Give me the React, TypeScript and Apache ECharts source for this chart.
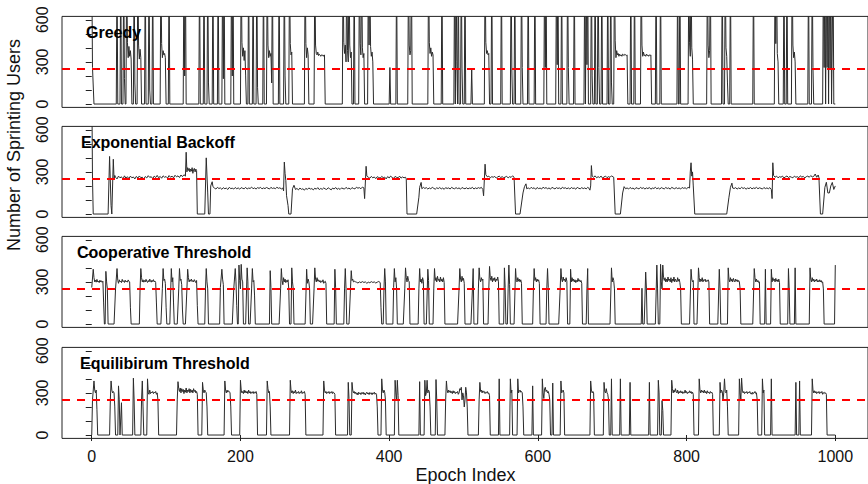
import React, { useEffect, useRef } from "react";
import * as echarts from "echarts";

const panelTitles = ["Greedy", "Exponential Backoff", "Cooperative Threshold", "Equilibirum Threshold"];
const threshold = 250;
const xTicks = [0, 200, 400, 600, 800, 1000];
const yTicks = [0, 100, 200, 300, 400, 500, 600];
const yLabels = [0, 300, 600];

// [epoch, users, epoch, users, ...]
const greedy = [
  0,1000, 1,260, 3,0, 33,0, 34,1000, 35,0, 38,0, 39,1000, 40,0, 42,0, 43,1000, 44,180, 45,0,
  46,0, 47,1000, 48,440, 49,330, 50,410, 51,340, 52,380, 53,320, 54,0,
  56,0, 57,1000, 58,150, 59,0,
  61,0, 62,1000, 63,420, 64,320, 65,390, 66,330, 67,0,
  71,0, 72,1000, 73,0, 76,0, 77,1000, 78,100, 79,0, 81,0, 82,1000, 83,0,
  92,0, 93,1000, 94,430, 95,330, 96,380, 97,350, 98,360, 99,330, 100,0,
  103,0, 104,1000, 105,0,
  123,0, 124,1000, 125,200, 126,1000, 127,0,
  144,0, 145,1000, 146,0, 150,0, 151,1000, 152,0, 155,0, 156,1000, 157,150, 158,0,
  162,0, 163,1000, 164,0, 169,0, 170,1000, 171,0, 175,0, 176,1000, 177,180, 178,1000, 179,0,
  187,0, 188,1000, 189,200, 190,1000, 191,0,
  200,0, 201,1000, 202,440, 203,340, 204,400, 205,310, 206,380, 207,200, 208,0,
  210,0, 211,1000, 212,0, 216,0, 217,1000, 218,0, 221,0, 222,1000, 223,120, 224,0,
  230,0, 231,1000, 232,0,
  235,0, 236,1000, 237,420, 238,330, 239,380, 240,340, 241,360, 242,150, 243,1000, 244,0,
  251,0, 252,1000, 253,0, 258,0, 259,1000, 260,200, 261,0,
  265,0, 266,1000, 267,430, 268,350, 269,370, 270,0,
  286,0, 287,1000, 288,430, 289,330, 290,400, 291,350, 292,0,
  299,0, 300,1000, 301,420, 302,360, 303,350, 304,370, 305,345, 306,355, 307,350, 308,340, 309,350, 310,345, 311,350, 312,340, 313,350, 314,0,
  337,0, 338,1000, 339,440, 340,360, 341,420, 342,300, 343,1000, 344,380, 345,300, 346,1000, 347,420, 348,330, 349,370, 350,0,
  352,0, 353,1000, 354,0,
  359,0, 360,1000, 361,430, 362,350, 363,1000, 364,400, 365,330, 366,360, 367,0,
  371,0, 372,1000, 373,420, 374,1000, 375,410, 376,340, 377,370, 378,300, 379,0,
  400,0, 401,260, 402,0, 409,0, 410,1000, 411,0,
  425,0, 426,1000, 427,420, 428,350, 429,380, 430,1000, 431,0,
  452,0, 453,1000, 454,440, 455,360, 456,400, 457,340, 458,370, 459,350, 460,0,
  470,0, 471,1000, 472,0,
  487,0, 488,1000, 489,0, 490,1000, 491,300, 492,0, 493,1000, 494,0, 496,0, 497,1000, 498,250, 499,0, 501,0, 502,1000, 503,0,
  510,0, 511,250, 512,0,
  528,0, 529,1000, 530,440, 531,360, 532,380, 533,350, 534,360, 535,0,
  537,0, 538,1000, 539,0, 550,0, 551,1000, 552,0,
  563,0, 564,1000, 565,250, 566,0, 568,0, 569,1000, 570,0,
  577,0, 578,1000, 579,260, 580,0, 586,0, 587,1000, 588,0, 595,0, 596,1000, 597,0,
  608,0, 609,1000, 610,260, 611,1000, 612,0,
  624,0, 625,1000, 626,280, 627,1000, 628,0, 631,0, 632,1000, 633,0,
  639,0, 640,1000, 641,260, 642,0, 648,0, 649,1000, 650,0,
  662,0, 663,1000, 664,0, 665,1000, 666,280, 667,1000, 668,0, 671,0, 672,1000, 673,200, 674,0, 676,0, 677,1000, 678,0,
  680,0, 681,1000, 682,260, 683,0, 685,0, 686,1000, 687,0,
  693,0, 694,1000, 695,0, 697,0, 698,1000, 699,150, 700,0,
  702,0, 703,1000, 704,450, 705,330, 706,380, 707,350, 708,360, 709,340, 710,355, 711,345, 712,350, 713,340, 714,355, 715,350, 716,345, 717,355, 718,350, 719,345, 720,350, 721,0,
  724,0, 725,1000, 726,0, 729,0, 730,1000, 731,0,
  738,0, 739,1000, 740,420, 741,340, 742,370, 743,345, 744,350, 745,340, 746,355, 747,345, 748,350, 749,340, 750,350, 751,345, 752,350, 753,0,
  758,0, 759,1000, 760,0, 764,0, 765,1000, 766,0,
  787,0, 788,1000, 789,0, 790,0, 791,1000, 792,0,
  802,0, 803,1000, 804,440, 805,340, 806,1000, 807,400, 808,320, 809,0,
  827,0, 828,1000, 829,420, 830,330, 831,380, 832,1000, 833,0,
  847,0, 848,1000, 849,0, 851,0, 852,1000, 853,400, 854,340, 855,150, 856,0, 858,0, 859,1000, 860,0,
  889,0, 890,1000, 891,0,
  918,0, 919,1000, 920,430, 921,1000, 922,360, 923,300, 924,0,
  930,0, 931,1000, 932,0, 934,0, 935,1000, 936,0,
  941,0, 942,1000, 943,420, 944,330, 945,370, 946,300, 947,0,
  963,0, 964,1000, 965,0, 968,0, 969,1000, 970,260, 971,0,
  983,0, 984,1000, 985,260, 986,1000, 987,0, 988,1000, 989,260, 990,1000, 991,0, 992,1000, 993,250, 994,1000, 995,0, 997,1000, 998,0, 1000,0,
];

const backoff = [
  0,1000, 1,255, 2,0, 22,0, 24,410, 26,60, 27,0, 29,390, 30,250, 31,275,
  32,262, 34,250, 36,270, 38,258, 40,265, 42,248, 44,272, 46,255, 48,266, 50,252, 52,270, 54,258, 56,264, 58,250,
  60,268, 62,256, 64,271, 66,259, 68,262, 70,249, 72,267, 74,257, 76,273, 78,261, 80,266, 82,252, 84,270, 86,260,
  88,275, 90,258, 92,268, 94,255, 96,272, 98,262, 100,267, 102,256, 104,274, 106,262, 108,270, 110,258, 112,276,
  114,265, 116,272, 118,260, 120,278, 122,266, 124,280, 126,270,
  127,440, 128,300, 129,330, 130,310, 131,325, 132,300, 133,320, 134,305, 135,330, 136,290, 137,318, 138,325, 139,300, 140,320, 141,310, 142,0,
  152,0, 154,400, 156,150, 157,0, 159,0, 160,200, 162,230, 163,195,
  165,185, 167,178, 169,190, 171,182, 173,186, 175,176, 177,188, 179,180, 181,185, 183,175, 185,190, 187,181, 189,184,
  191,178, 193,189, 195,180, 197,186, 199,177, 201,188, 203,183, 205,180, 207,190, 209,178, 211,185, 213,182, 215,192,
  217,180, 219,186, 221,178, 223,188, 225,183, 227,190, 229,179, 231,186, 233,181, 235,189, 237,184, 239,178, 241,190,
  243,182, 245,186, 247,180, 249,191, 251,183, 253,187, 255,179, 257,185, 258,165,
  259,370, 260,290, 261,240, 262,130, 264,60, 265,0, 268,0, 270,180, 272,205, 274,175,
  276,182, 278,172, 280,185, 282,176, 284,180, 286,170, 288,183, 290,175, 292,186, 294,178, 296,181, 298,172, 300,184,
  302,177, 304,188, 306,174, 308,182, 310,176, 312,186, 314,179, 316,175, 318,187, 320,180, 322,172, 324,185, 326,178,
  328,189, 330,176, 332,183, 334,175, 336,186, 338,181, 340,178, 342,190, 344,180, 346,185, 348,176, 350,188, 352,182,
  354,179, 356,191, 358,184, 360,188, 362,180, 364,192, 366,186, 367,110,
  369,340, 370,270, 372,262, 374,255, 376,268, 378,258, 380,264, 382,252, 384,266, 386,260, 388,256, 390,268, 392,259,
  394,263, 396,250, 398,267, 400,257, 402,270, 404,260, 406,254, 408,268, 410,261, 412,258, 414,270, 416,256, 418,264,
  420,258, 422,262, 423,250,
  424,0, 437,0, 440,120, 441,190, 443,225, 444,180, 446,190,
  448,182, 450,188, 452,178, 454,186, 456,180, 458,190, 460,183, 462,177, 464,187, 466,181, 468,189, 470,179, 472,185,
  474,176, 476,188, 478,182, 480,186, 482,178, 484,190, 486,183, 488,180, 490,188, 492,181, 494,186, 496,177, 498,189,
  500,183, 502,180, 504,187, 506,179, 508,185, 510,182, 512,190, 514,178, 516,186, 518,181, 520,188, 522,183, 524,190, 526,175,
  527,130, 529,355, 530,280, 532,265, 534,270, 536,258, 538,266, 540,262, 542,268, 544,256, 546,264, 548,270, 550,260,
  552,266, 554,258, 556,263, 558,269, 560,257, 562,266, 564,261, 566,272, 568,262,
  570,0, 576,0, 580,150, 582,195, 584,215, 585,180,
  587,186, 589,179, 591,190, 593,182, 595,187, 597,176, 599,189, 601,181, 603,185, 605,178, 607,191, 609,183, 611,188,
  613,180, 615,186, 617,177, 619,190, 621,184, 623,179, 625,188, 627,182, 629,186, 631,178, 633,191, 635,183, 637,187,
  639,180, 641,186, 643,178, 645,189, 647,182, 649,185, 651,177, 653,190, 655,183, 657,180, 659,188, 661,181, 663,186,
  665,179, 667,190, 669,182, 670,170,
  671,200, 672,345, 673,270, 675,262, 677,272, 679,258, 681,266, 683,260, 685,270, 687,256, 689,264, 691,270, 693,259,
  695,266, 697,261, 699,272, 701,265, 702,262,
  704,0, 711,0, 714,150, 716,195, 718,180,
  720,186, 722,178, 724,189, 726,181, 728,185, 730,176, 732,188, 734,183, 736,179, 738,190, 740,182, 742,187, 744,178,
  746,186, 748,181, 750,189, 752,177, 754,185, 756,182, 758,190, 760,180, 762,186, 764,178, 766,188, 768,183, 770,179,
  772,189, 774,182, 776,186, 778,177, 780,190, 782,184, 784,180, 786,188, 788,181, 790,186, 792,178, 794,189, 796,183,
  798,187, 800,180, 802,190, 804,185,
  805,300, 806,365, 807,270, 808,300, 809,200, 811,0, 854,0, 857,120, 859,190, 861,220, 862,185,
  864,182, 866,188, 868,178, 870,186, 872,180, 874,190, 876,182, 878,187, 880,177, 882,185, 884,181, 886,189, 888,179,
  890,186, 892,182, 894,190, 896,180, 898,187, 900,183, 902,178, 904,189, 906,181, 908,186, 910,180, 912,188, 914,175,
  915,110, 916,365, 917,275, 919,262, 921,270, 923,258, 925,266, 927,262, 929,270, 931,257, 933,265, 935,271, 937,260,
  939,267, 941,262, 943,258, 945,270, 947,262, 949,266, 951,259, 953,272, 955,263, 957,268, 959,257, 961,266, 963,270,
  965,262, 967,274, 969,264, 971,268, 973,285, 975,262, 977,278, 978,260,
  980,0, 983,0, 986,190, 988,226, 990,150, 992,150, 994,200, 996,225, 998,175, 1000,200,
];

const cooperative = [
  0,260, 2,390, 3,330, 4,300, 5,312, 6,298, 7,318, 8,300, 9,306, 10,295, 11,312, 12,300, 13,308, 14,297, 15,305, 16,150, 17,0,
  18,0, 19,375, 20,300, 21,250, 22,0, 30,0, 32,250, 34,395, 35,310, 36,290, 37,315, 38,300, 39,306, 40,295, 41,318, 42,302,
  43,308, 44,296, 45,312, 46,300, 47,306, 48,298, 49,314, 50,303, 51,300, 52,120, 53,0, 64,0, 65,250, 66,395, 67,330, 68,300,
  69,315, 70,298, 71,310, 72,300, 73,318, 74,304, 75,296, 76,310, 77,300, 78,320, 79,305, 80,298, 81,312, 82,302, 83,316,
  84,300, 85,306, 86,295, 87,150, 88,0, 93,0, 95,255, 96,395, 97,310, 98,320, 99,290, 100,120, 101,0, 105,0, 107,395,
  108,300, 109,330, 110,150, 111,0, 115,0, 117,250, 118,395, 119,310, 120,320, 121,280, 122,100, 123,0, 126,0, 128,250,
  129,390, 130,330, 131,300, 132,315, 133,305, 134,320, 135,302, 136,310, 137,300, 138,316, 139,305, 140,295, 141,310,
  142,130, 143,0, 152,0, 153,250, 154,395, 155,300, 156,250, 157,0, 172,0, 173,260, 175,390, 176,320, 177,280, 178,0,
  189,0, 191,250, 193,395, 194,300, 195,130, 196,0, 197,0, 198,420, 199,310, 200,250, 201,425, 202,320, 203,300, 204,0,
  207,0, 209,400, 210,300, 211,0, 213,0, 215,250, 216,395, 217,300, 218,310, 219,200, 220,0, 239,0, 240,380, 241,260, 242,0,
  252,0, 254,250, 255,395, 256,310, 257,280, 258,330, 259,300, 260,320, 261,295, 262,310, 263,300, 264,315, 265,250, 266,0,
  268,0, 269,400, 270,300, 271,250, 272,0, 287,0, 289,390, 290,290, 291,320, 292,300, 293,250, 294,0, 297,0, 299,250,
  300,400, 301,320, 302,300, 303,330, 304,305, 305,315, 306,300, 307,310, 308,295, 309,305, 310,300, 311,315, 312,290,
  313,300, 314,305, 315,290, 316,0,
  326,0, 327,390, 328,260, 329,0, 339,0, 340,250, 341,395, 342,250, 343,0, 346,0, 348,250, 349,380, 350,310, 351,320,
  352,300, 353,305, 355,300, 356,298, 358,292, 360,300, 362,295, 364,302, 366,296, 368,300, 370,290, 372,298, 374,294,
  376,302, 378,296, 380,300, 382,292, 384,298, 386,303, 388,295, 389,120, 390,0,
  392,0, 393,250, 394,395, 395,300, 396,0, 405,0, 406,260, 407,395, 408,300, 409,330, 410,250, 411,0,
  419,0, 421,250, 422,400, 423,330, 424,300, 425,340, 426,310, 427,300, 428,0,
  439,0, 440,250, 441,395, 442,300, 443,320, 444,290, 445,330, 446,305, 447,0, 450,0, 452,390, 453,310, 454,0,
  459,0, 460,250, 461,395, 462,310, 463,330, 464,300, 465,340, 466,310, 467,320, 468,300, 469,335, 470,305, 471,320,
  472,300, 473,330, 474,295, 475,0, 492,0, 494,250, 495,395, 496,320, 497,300, 498,340, 499,310, 500,325, 501,290, 502,0,
  510,0, 512,250, 513,395, 514,0, 519,0, 520,250, 521,400, 522,320, 523,300, 524,330, 525,310, 526,320, 527,0,
  533,0, 534,250, 535,410, 536,330, 537,310, 538,340, 539,300, 540,325, 541,310, 542,330, 543,300, 544,320, 545,310,
  546,335, 547,300, 548,0, 554,0, 555,400, 556,260, 557,0, 559,0, 560,250, 561,420, 562,280, 563,0,
  568,0, 570,395, 571,310, 572,300, 573,330, 574,305, 575,320, 576,300, 577,315, 578,290, 579,0,
  593,0, 594,250, 595,395, 596,310, 597,330, 598,300, 599,320, 600,305, 601,315, 602,290, 603,0,
  611,0, 612,250, 613,395, 614,260, 615,0, 628,0, 630,250, 631,395, 632,320, 633,300, 634,335, 635,310, 636,320, 637,300,
  638,330, 639,305, 640,0, 643,0, 644,390, 645,300, 646,330, 647,305, 648,320, 649,300, 650,315, 651,295, 652,310, 653,300,
  654,325, 655,305, 656,315, 657,300, 658,310, 659,290, 660,0, 665,0, 666,250, 667,395, 668,0,
  697,0, 699,400, 700,300, 701,330, 702,310, 703,250, 704,0, 739,0, 740,255, 741,0, 743,0, 745,370, 746,250, 747,0,
  758,0, 760,420, 761,250, 762,0, 764,0, 765,425, 766,300, 767,250, 768,420, 769,330, 770,310, 771,330, 772,300, 773,320,
  774,300, 775,335, 776,310, 777,320, 778,300, 779,330, 780,295, 781,320, 782,305, 783,335, 784,300, 785,320, 786,310,
  787,300, 788,330, 789,305, 790,320, 791,295, 792,250, 793,0, 804,0, 806,390, 807,320, 808,300, 809,310, 810,0,
  814,0, 816,400, 817,330, 818,300, 819,320, 820,305, 821,330, 822,300, 823,315, 824,310, 825,320, 826,300, 827,310,
  828,305, 829,315, 830,300, 831,0, 842,0, 844,390, 845,250, 846,0, 855,0, 856,400, 857,320, 858,300, 859,330, 860,305,
  861,320, 862,300, 863,325, 864,310, 865,300, 866,320, 867,305, 868,315, 869,300, 870,310, 871,300, 872,250, 873,0,
  889,0, 891,395, 892,330, 893,300, 894,320, 895,300, 896,310, 897,295, 898,300, 899,0, 905,0, 906,390, 907,0,
  913,0, 914,390, 915,300, 916,330, 917,310, 918,320, 919,300, 920,325, 921,305, 922,315, 923,300, 924,320, 925,295, 926,0,
  936,0, 937,395, 938,250, 939,0, 945,0, 946,400, 947,0, 965,0, 966,400, 967,320, 968,300, 969,330, 970,305, 971,320,
  972,300, 973,315, 974,305, 975,320, 976,300, 977,310, 978,300, 979,315, 980,300, 981,310, 982,295, 983,300, 984,250,
  985,0, 999,0, 1000,420,
];

const equilibrium = [
  0,0, 1,250, 3,385, 4,320, 5,300, 6,320, 7,180, 8,0, 24,0, 25,250, 26,385, 27,320, 28,300, 29,310, 30,300, 31,200, 32,0,
  35,0, 36,350, 37,250, 38,0, 40,230, 41,0, 55,0, 56,405, 57,250, 58,0, 66,0, 67,250, 68,385, 69,200, 70,0,
  74,0, 75,400, 76,300, 77,290, 78,320, 79,295, 80,305, 81,300, 82,310, 83,295, 84,305, 85,300, 86,310, 87,290, 88,300,
  89,250, 90,0, 114,0, 115,250, 116,380, 117,330, 118,310, 119,335, 120,300, 121,330, 122,310, 123,325, 124,295, 125,320,
  126,305, 127,335, 128,300, 129,320, 130,310, 131,330, 132,300, 133,325, 134,305, 135,320, 136,300, 137,330, 138,310,
  139,320, 140,300, 141,310, 142,290, 143,0, 148,0, 149,375, 150,320, 151,300, 152,320, 153,310, 154,300, 155,200, 156,0,
  178,0, 179,385, 180,320, 181,300, 182,320, 183,305, 184,315, 185,310, 186,300, 187,200, 188,0,
  199,0, 200,390, 201,320, 202,300, 203,310, 204,295, 205,320, 206,300, 207,315, 208,300, 209,310, 210,295, 211,320,
  212,300, 213,310, 214,295, 215,305, 216,300, 217,310, 218,295, 219,305, 220,300, 221,310, 222,290, 223,0,
  235,0, 236,385, 237,330, 238,300, 239,310, 240,200, 241,0,
  266,0, 267,390, 268,320, 269,300, 270,315, 271,295, 272,310, 273,300, 274,320, 275,295, 276,305, 277,300, 278,310,
  279,295, 280,305, 281,300, 282,315, 283,295, 284,305, 285,300, 286,310, 287,290, 288,0,
  311,0, 312,385, 313,320, 314,300, 315,310, 316,295, 317,305, 318,300, 319,310, 320,295, 321,305, 322,300, 323,310,
  324,295, 325,305, 326,300, 327,290, 328,0,
  344,0, 345,375, 346,260, 347,0, 349,0, 350,375, 351,320, 352,300, 353,310, 354,295, 355,305, 356,290, 357,300, 358,285,
  359,305, 360,295, 361,300, 362,288, 363,302, 364,295, 365,305, 366,290, 367,300, 368,285, 369,298, 370,305, 371,292,
  372,300, 373,288, 374,303, 375,295, 376,300, 377,287, 378,300, 379,295, 380,305, 381,290, 382,298, 383,290, 384,200, 385,0,
  389,0, 390,400, 391,320, 392,300, 393,320, 394,305, 395,250, 396,0, 407,0, 408,390, 409,300, 410,250, 411,390, 412,280, 413,0,
  440,0, 441,380, 442,0, 447,0, 448,390, 449,280, 450,300, 451,390, 452,300, 453,320, 454,310, 455,200, 456,0,
  462,0, 463,395, 464,250, 465,0, 475,0, 476,250, 477,385, 478,320, 479,300, 480,320, 481,305, 482,315, 483,300, 484,310,
  485,295, 486,315, 487,300, 488,310, 489,295, 490,305, 491,300, 492,310, 493,290, 494,300, 495,330, 496,320, 497,340,
  498,250, 499,300, 500,280, 501,200, 502,250, 503,340, 504,300, 505,200, 506,0,
  520,0, 521,250, 522,375, 523,310, 524,320, 525,300, 526,315, 527,305, 528,310, 529,295, 530,305, 531,300, 532,310,
  533,295, 534,300, 535,280, 536,0, 547,0, 548,400, 549,0, 562,0, 563,400, 564,300, 565,320, 566,0,
  572,0, 573,400, 574,300, 575,310, 576,320, 577,305, 578,310, 579,300, 580,200, 581,0, 592,0, 593,350, 594,0,
  605,0, 606,400, 607,300, 608,260, 609,330, 610,340, 611,310, 612,320, 613,300, 614,310, 615,290, 616,250, 617,0,
  619,0, 620,370, 621,0, 630,0, 631,385, 632,300, 633,310, 634,320, 635,300, 636,0,
  670,0, 671,385, 672,320, 673,300, 674,310, 675,300, 676,0,
  688,0, 689,375, 690,310, 691,300, 692,330, 693,300, 694,290, 695,250, 696,0, 698,0, 699,400, 700,0, 710,0, 711,400, 712,0,
  723,0, 724,375, 725,0, 749,0, 750,375, 751,0, 761,0, 762,390, 763,300, 764,0, 766,0, 767,245, 768,175, 769,0,
  779,0, 780,390, 781,330, 782,300, 783,320, 784,305, 785,330, 786,310, 787,300, 788,320, 789,295, 790,310, 791,300,
  792,315, 793,300, 794,310, 795,295, 796,305, 797,300, 798,320, 799,300, 800,310, 801,295, 802,305, 803,300, 804,315,
  805,300, 806,310, 807,295, 808,305, 809,290, 810,0,
  816,0, 817,400, 818,320, 819,300, 820,320, 821,305, 822,315, 823,300, 824,320, 825,300, 826,310, 827,295, 828,315,
  829,300, 830,305, 831,295, 832,310, 833,300, 834,305, 835,290, 836,0,
  844,0, 845,375, 846,300, 847,320, 848,310, 849,250, 850,300, 851,400, 852,310, 853,300, 854,320, 855,200, 856,0,
  870,0, 871,400, 872,300, 873,250, 874,405, 875,320, 876,300, 877,310, 878,295, 879,305, 880,300, 881,310, 882,295,
  883,305, 884,300, 885,310, 886,295, 887,300, 888,290, 889,305, 890,295, 891,300, 892,310, 893,295, 894,300, 895,250, 896,0,
  901,0, 902,400, 903,300, 904,320, 905,0, 913,0, 914,400, 915,0, 946,0, 947,375, 948,0, 951,0, 952,385, 953,0,
  968,0, 969,400, 970,320, 971,300, 972,315, 973,300, 974,310, 975,295, 976,305, 977,300, 978,310, 979,295, 980,305,
  981,300, 982,310, 983,290, 984,300, 985,305, 986,295, 987,300, 988,290, 989,0, 1000,0,
];

const seriesData = [greedy, backoff, cooperative, equilibrium];

function toPairs(flat: number[]): number[][] {
  const out: number[][] = [];
  for (let i = 0; i + 1 < flat.length; i += 2) out.push([flat[i], flat[i + 1]]);
  return out;
}

const FONT = "'Liberation Sans', Arial, Helvetica, sans-serif";
const gridTops = [16.4, 126.4, 236.4, 347.4];
const gridH = 91;
const titleX = [86, 81, 77, 80];

export default function App() {
  const ref = useRef<HTMLDivElement>(null);
  useEffect(() => {
    if (!ref.current) return;
    const chart = echarts.init(ref.current, undefined, { renderer: "svg" });
    const grids = gridTops.map((t) => ({
      left: 62,
      top: t,
      width: 810,
      height: gridH,
      show: true,
      borderColor: "#222",
      borderWidth: 1,
      backgroundColor: "transparent",
      containLabel: false,
    }));
    const xAxes = gridTops.map((_, i) => ({
      type: "value",
      gridIndex: i,
      min: -40,
      max: 1044,
      axisLine: { show: false },
      splitLine: { show: false },
      axisTick: {
        show: i === 3,
        customValues: xTicks,
        length: 6,
        lineStyle: { color: "#222", width: 1 },
      },
      axisLabel: {
        show: i === 3,
        customValues: xTicks,
        formatter: (v: number) => String(v),
        fontSize: 16,
        color: "#111",
        margin: 10,
        fontFamily: FONT,
      },
    }));
    const yAxes = gridTops.map((_, i) => ({
      type: "value",
      gridIndex: i,
      min: -24,
      max: 624,
      axisLine: { show: false },
      splitLine: { show: false },
      axisTick: {
        show: true,
        customValues: yTicks,
        length: 6,
        lineStyle: { color: "#222", width: 1 },
      },
      axisLabel: {
        show: true,
        customValues: yLabels,
        formatter: (v: number) => String(v),
        rotate: 90,
        fontSize: 16,
        color: "#111",
        margin: 12,
        fontFamily: FONT,
      },
    }));
    const series = seriesData.map((d, i) => ({
      type: "line",
      xAxisIndex: i,
      yAxisIndex: i,
      data: toPairs(d),
      showSymbol: false,
      symbol: "none",
      clip: true,
      lineStyle: { color: "#2b2b2b", width: 1 },
      markLine: {
        silent: true,
        symbol: ["none", "none"],
        label: { show: false },
        lineStyle: { color: "#ff0000", type: [8, 7], width: 2 },
        data: [{ yAxis: threshold }],
      },
      z: 2,
    }));
    const graphic: any[] = panelTitles.map((t, i) => ({
      type: "text",
      x: titleX[i],
      y: gridTops[i] + 16,
      style: {
        text: t,
        fontSize: 16,
        fontWeight: "bold",
        fontFamily: FONT,
        fill: "#000",
        textVerticalAlign: "middle",
        textAlign: "left",
      },
      z: 10,
    }));
    graphic.push({
      type: "text",
      x: 465.5,
      y: 475,
      style: {
        text: "Epoch Index",
        fontSize: 18,
        fontFamily: FONT,
        fill: "#111",
        textAlign: "center",
        textVerticalAlign: "middle",
      },
    });
    graphic.push({
      type: "text",
      x: 13.5,
      y: 145,
      rotation: Math.PI / 2,
      style: {
        text: "Number of Sprinting Users",
        fontSize: 18,
        fontFamily: FONT,
        fill: "#111",
        textAlign: "center",
        textVerticalAlign: "middle",
      },
    });
    chart.setOption({
      animation: false,
      backgroundColor: "#fff",
      grid: grids,
      xAxis: xAxes,
      yAxis: yAxes,
      series,
      graphic,
    });
    return () => chart.dispose();
  }, []);
  return (
    <div
      ref={ref}
      style={{ position: "absolute", left: 0, top: 0, width: 868, height: 484 }}
    />
  );
}
